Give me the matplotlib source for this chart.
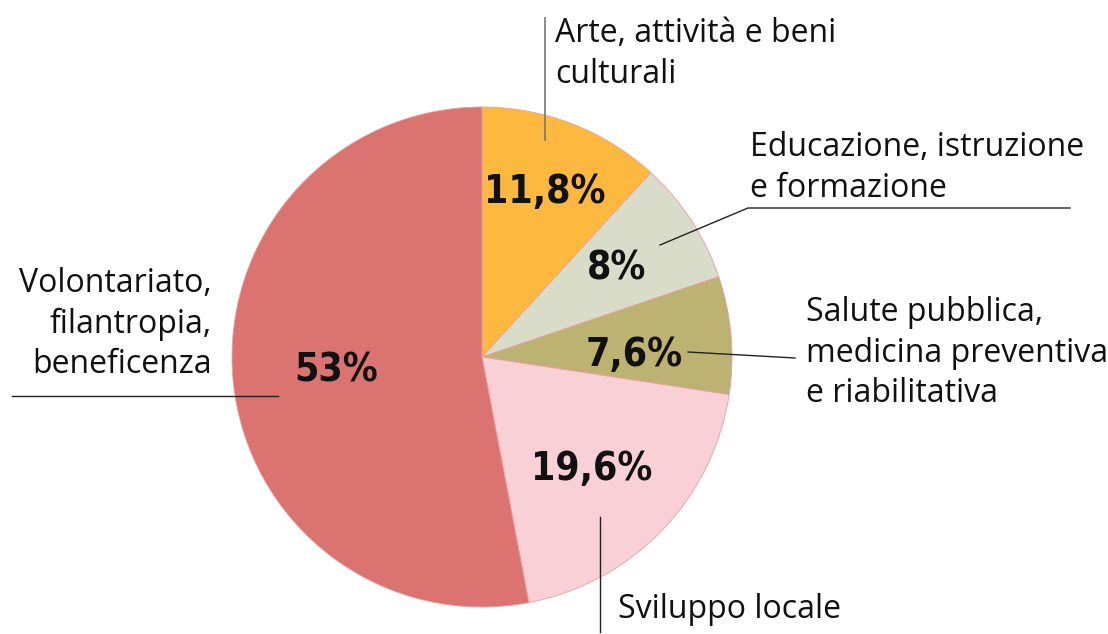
import matplotlib.pyplot as plt

# dati
categorie = ["Arte, attività e beni\nculturali",
             "Educazione, istruzione\ne formazione",
             "Salute pubblica,\nmedicina preventiva\ne riabilitativa",
             "Sviluppo locale",
             "Volontariato,\nfilantropia,\nbeneficenza"]
valori = [11.8, 8, 7.6, 19.6, 53]
etichette = ["11,8%", "8%", "7,6%", "19,6%", "53%"]
colori = ["#FDB840", "#D9DCC9", "#BCB272", "#F9D0D5", "#DB7370"]

W, H = 1108, 634
fig = plt.figure(figsize=(W / 100, H / 100), dpi=100)
ax = fig.add_axes([0, 0, 1, 1])


def py(y):
    # coordinate in pixel dall'alto
    return H - y


cx, cy, r = 482, py(357), 250
wedges, _ = ax.pie(valori, colors=colori, startangle=90, counterclock=False,
                   center=(cx, cy), radius=r, frame=True,
                   wedgeprops=dict(linewidth=0.6, edgecolor="#E8A0A0"))
ax.set_xlim(0, W)
ax.set_ylim(0, H)
ax.set_aspect("equal")
ax.axis("off")

# percentuali
pos_pct = [(545, 192), (617, 268), (634, 355), (592, 469), (336, 370)]
for (x, y), t in zip(pos_pct, etichette):
    ax.text(x, py(y), t, ha="center", va="center", fontsize=28,
            fontweight="bold", fontstretch="condensed", family="DejaVu Sans",
            color="#111111")

# linee guida
lc = dict(color="#222222", linewidth=1)
ax.plot([545, 545], [py(18), py(140)], color="#777777", linewidth=1.2)
ax.plot([660, 748, 1070], [py(245), py(208), py(208)], **lc)
ax.plot([688, 795], [py(352), py(358)], **lc)
ax.plot([600, 600], [py(517), py(632)], **lc)
ax.plot([12, 278], [py(396), py(396)], **lc)

# etichette categorie
tk = dict(fontsize=23, family="Open Sans", color="#111111", linespacing=1.3)
ax.text(555, py(54), categorie[0], ha="left", va="center", **tk)
ax.text(750, py(168), categorie[1], ha="left", va="center", **tk)
ax.text(806, py(353), categorie[2], ha="left", va="center", **tk)
ax.text(618, py(609), categorie[3], ha="left", va="center", **tk)
ax.text(212, py(324), categorie[4], ha="right", va="center", multialignment="right", **tk)

fig.savefig("out.png", dpi=100)
